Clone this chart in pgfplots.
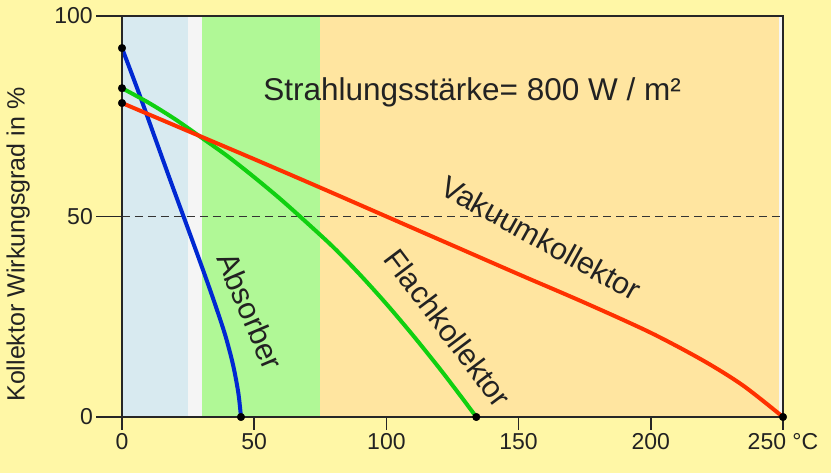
\documentclass[border=0pt]{standalone}
\usepackage{pgfplots}
\pgfplotsset{compat=1.18}
\usepackage{fontspec}
\setmainfont{Liberation Sans}
\definecolor{bgyel}{HTML}{FFF7A6}
\definecolor{plotor}{HTML}{FFE5A0}
\definecolor{lblue}{HTML}{D8EAF0}
\definecolor{gapw}{HTML}{F5F5F5}
\definecolor{lgreen}{HTML}{B0F896}
\definecolor{cblue}{HTML}{0028D2}
\definecolor{cgreen}{HTML}{10D010}
\definecolor{cred}{HTML}{FF3000}
\definecolor{txt}{HTML}{222222}
\begin{document}
\begin{tikzpicture}
\fill[bgyel] (0,0) rectangle (831pt,473pt);
\begin{axis}[
  at={(122pt,56pt)}, anchor=south west,
  scale only axis, width=661pt, height=401pt,
  xmin=0, xmax=250, ymin=0, ymax=100,
  axis on top, clip=false,
  xtick={0,50,100,150,200,250},
  xticklabels={0,50,100,150,200,250 °C},
  ytick={0,50,100},
  xtick pos=bottom, ytick pos=left,
  tick align=outside, major tick length=13pt,
  tick style={black!85, line width=1.6pt},
  axis line style={black!85, line width=1.8pt},
  ticklabel style={font=\fontsize{23}{26}\selectfont, text=txt, inner sep=3pt},
  yticklabel style={xshift=-13pt},
  /pgf/number format/assume math mode=true,
  ylabel={Kollektor Wirkungsgrad in \%},
  ylabel style={at={(axis description cs:-0.157,0.43)}, anchor=center,
    font=\fontsize{25}{30}\selectfont, text=txt},
]
% shaded regions
\addplot[fill=lblue, draw=none, forget plot] coordinates {(0,100)(25,100)} \closedcycle;
\addplot[fill=gapw, draw=none, forget plot] coordinates {(25,100)(30.3,100)} \closedcycle;
\addplot[fill=lgreen, draw=none, forget plot] coordinates {(30.3,100)(75,100)} \closedcycle;
\addplot[fill=plotor, draw=none, forget plot] coordinates {(75,100)(248.3,100)} \closedcycle;
\addplot[fill=gapw, draw=none, forget plot] coordinates {(248.3,100)(250,100)} \closedcycle;
% long y ticks
\draw[black!85, line width=1.6pt] (axis cs:0,0) -- ++(-26pt,0);
\draw[black!85, line width=1.6pt] (axis cs:0,50) -- ++(-26pt,0);
\draw[black!85, line width=1.6pt] (axis cs:0,100) -- ++(-26pt,0);
% 50 % line
\addplot[black!80, line width=1.2pt, dash pattern=on 8pt off 5pt] coordinates {(0,50)(250,50)};
% Absorber
\addplot[cblue, line width=4pt, smooth] coordinates {
(0,92)(6,81.5)(12,70.5)(18,59.5)(23,50.5)(27,43.3)(31,36)(35,28.5)(39,20.5)(42,13)(44,6)(45,0)};
% Flachkollektor
\addplot[cgreen, line width=4pt, smooth] coordinates {
(0,82)(10,78.4)(20,74.3)(30,69.7)(40,65)(50,59.8)(60,54.3)(70,48.4)(80,42.3)(90,35.5)(100,28.2)(110,20.4)(120,12.2)(128,5.3)(134,0)};
% Vakuumkollektor
\addplot[cred, line width=4pt, smooth] coordinates {
(0,78.3)(25,71.3)(50,64.3)(75,57.2)(100,50)(125,42.8)(150,35.6)(175,28.5)(200,21)(220,14)(235,7.8)(250,0)};
% end points
\addplot[only marks, mark=*, mark size=3.8pt, black] coordinates {(0,92)(0,82)(0,78.3)(45,0)(134,0)(250,0)};
% texts
\node[anchor=base, text=txt, font=\fontsize{31.5}{36}\selectfont] at (axis cs:132.4,79) {Strahlungsstärke= 800 W / m²};
\node[rotate=-29, text=txt, font=\fontsize{30.5}{34}\selectfont] at (axis cs:158.5,44.6) {Vakuumkollektor};
\node[rotate=-53, text=txt, font=\fontsize{30.5}{34}\selectfont] at (axis cs:123.3,22.2) {Flachkollektor};
\node[rotate=-67, text=txt, font=\fontsize{30.5}{34}\selectfont] at (axis cs:48.5,26.4) {Absorber};
\end{axis}
\pgfresetboundingbox
\path (0,0) rectangle (831pt,473pt);
\end{tikzpicture}
\end{document}
